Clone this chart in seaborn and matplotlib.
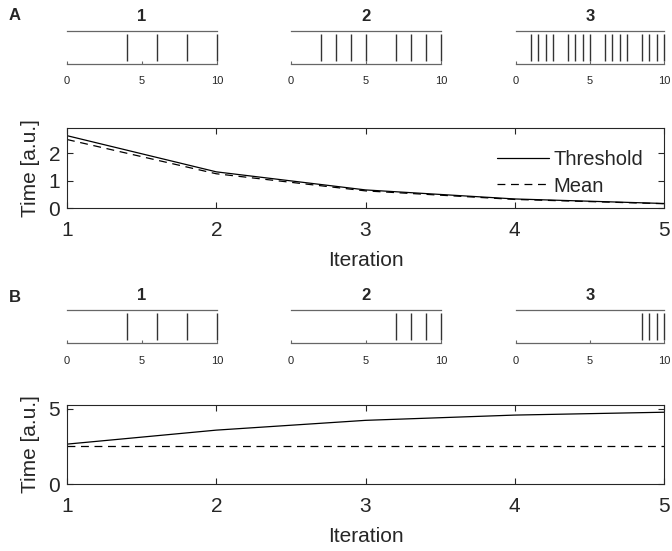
import numpy as np
import pandas as pd
import matplotlib
matplotlib.use("Agg")
import matplotlib.pyplot as plt
import seaborn as sns

# ---- data ----
iterations = [1, 2, 3, 4, 5]
threshold_A = [2.64, 1.32, 0.66, 0.33, 0.165]
mean_A = [2.5, 1.25, 0.625, 0.3125, 0.156]
threshold_B = [2.65, 3.58, 4.23, 4.58, 4.77]
mean_B = [2.5, 2.5, 2.5, 2.5, 2.5]
spikes_A = [[4, 6, 8, 10],
            [2, 3, 4, 5, 7, 8, 9, 10],
            [1, 1.5, 2, 2.5, 3.5, 4, 4.5, 5, 6, 6.5, 7, 7.5, 8.5, 9, 9.5, 10]]
spikes_B = [[4, 6, 8, 10],
            [7, 8, 9, 10],
            [8.5, 9, 9.5, 10]]
raster_titles = ["1", "2", "3"]
raster_ticks = [0, 5, 10]
panel_labels = ["A", "B"]

sns.set_theme(style="white")
plt.rcParams["font.family"] = ["Liberation Sans", "DejaVu Sans"]

W, H = 672, 551
fig = plt.figure(figsize=(W / 100, H / 100), dpi=100)


def px_axes(x0, x1, ytop, ybot):
    return fig.add_axes([x0 / W, 1 - ybot / H, (x1 - x0) / W, (ybot - ytop) / H])


raster_x = [(67, 217), (291, 441), (516, 664)]
AX = "#262626"


def draw_rasters(spike_sets, ytop, ybot):
    for (x0, x1), spikes, title in zip(raster_x, spike_sets, raster_titles):
        ax = px_axes(x0, x1, ytop, ybot)
        ax.set_xlim(0, 10)
        ax.set_ylim(0, 1)
        ax.vlines(spikes, 0.1, 0.9, color="#333333", lw=1.0, clip_on=False)
        for s in ["left", "right"]:
            ax.spines[s].set_visible(False)
        for s in ["top", "bottom"]:
            ax.spines[s].set_color("#666666")
            ax.spines[s].set_linewidth(0.9)
        ax.set_yticks([])
        ax.set_xticks(raster_ticks)
        ax.tick_params(axis="x", direction="in", length=2, width=0.8,
                       color="#666666", labelsize=8, pad=9, bottom=True)
        ax.set_title(title, fontsize=12, fontweight="bold", pad=7)


def draw_main(thr, mn, ylim, yticks, ytop, ybot, legend=False):
    ax = px_axes(67, 664, ytop, ybot)
    df = pd.DataFrame({
        "Iteration": iterations * 2,
        "Time": list(thr) + list(mn),
        "kind": ["Threshold"] * 5 + ["Mean"] * 5,
    })
    sns.lineplot(data=df, x="Iteration", y="Time", style="kind",
                 style_order=["Threshold", "Mean"],
                 dashes={"Threshold": "", "Mean": (6.3, 4.5)},
                 color="black", lw=0.9, ax=ax, legend=legend)
    ax.set_xlim(1, 5)
    ax.set_ylim(*ylim)
    ax.set_xticks(iterations)
    ax.set_yticks(yticks)
    for s in ax.spines.values():
        s.set_visible(True)
        s.set_color(AX)
        s.set_linewidth(0.8)
    ax.tick_params(direction="in", length=4, width=0.8, color=AX,
                   labelsize=15, labelcolor=AX, top=True, right=True,
                   bottom=True, left=True)
    ax.tick_params(axis="x", pad=9)
    ax.tick_params(axis="y", pad=5)
    ax.set_xlabel("Iteration", fontsize=15, color=AX, labelpad=8)
    ax.set_ylabel("Time [a.u.]", fontsize=15, color=AX, labelpad=6)
    if legend:
        leg = ax.legend(loc="upper right", bbox_to_anchor=(0.978, 0.82),
                        frameon=False, fontsize=14.5, handlelength=2.6,
                        handletextpad=0.2, labelspacing=0.35,
                        borderaxespad=0)
        for t in leg.get_texts():
            t.set_color(AX)
    return ax


draw_rasters(spikes_A, 31, 64)
draw_main(threshold_A, mean_A, (0, 2.92), [0, 1, 2], 128, 208, legend=True)
draw_rasters(spikes_B, 310, 343)
draw_main(threshold_B, mean_B, (0, 5.25), [0, 5], 405, 484)

fig.text(15 / W, 1 - 15 / H, panel_labels[0], fontsize=12, fontweight="bold",
         ha="center", va="center")
fig.text(15 / W, 1 - 297 / H, panel_labels[1], fontsize=12, fontweight="bold",
         ha="center", va="center")

fig.savefig("out.png", dpi=100)
